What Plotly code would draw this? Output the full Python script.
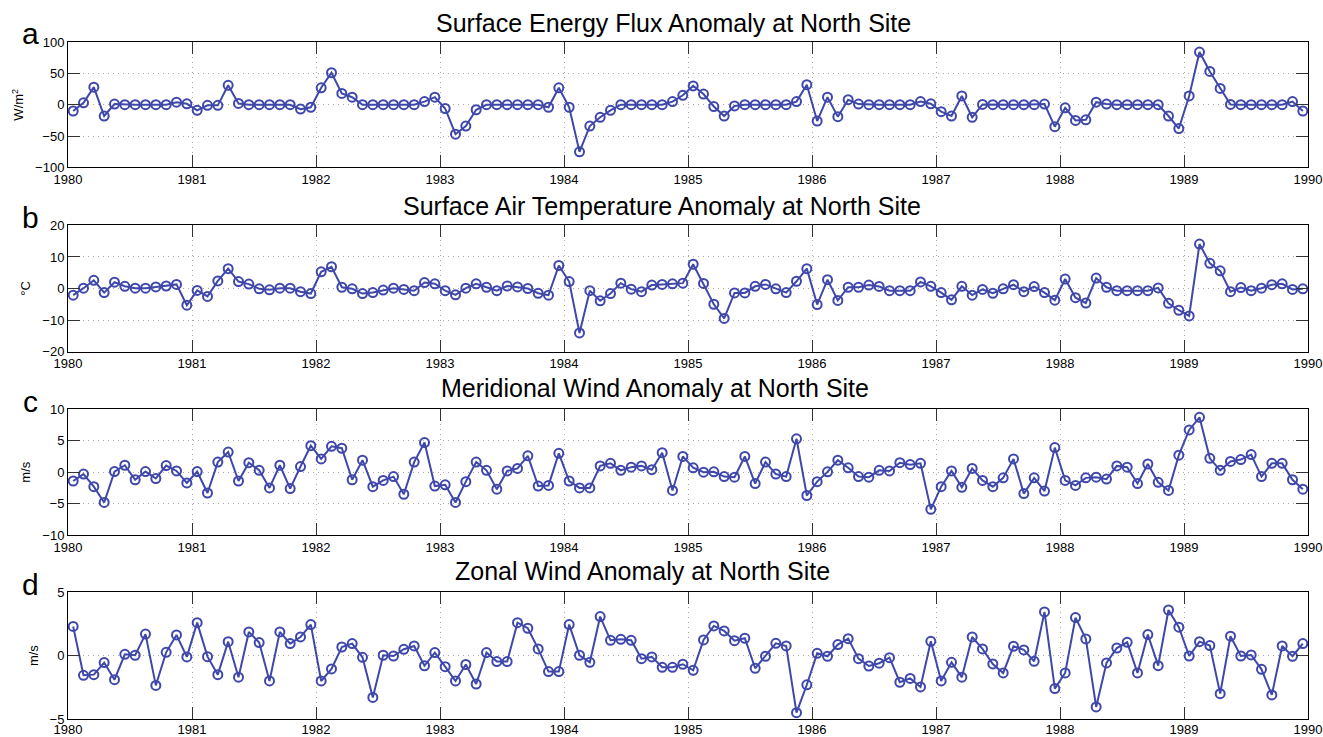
import numpy as np
import plotly.graph_objects as go

# Monthly anomalies, Jan 1980 - Dec 1989 (one row per year)
energy_flux = [
    -10, 3, 28, -18, 1, 0, 0, 0, 0, 0, 4, 1.5,
    -9, -1, -1, 31, 2, 0, 0, 0, 0, 0, -7, -4,
    27, 51, 18, 12, 0, 0, 0, 0, 0, 0, 5, 12,
    -6, -47, -34, -8, 0, 0, 0, 0, 0, 0, -4, 27,
    -4, -75, -34, -20, -9, 0, 0, 0, 0, 0, 5, 15,
    30, 17, -3, -18, -2, 0, 0, 0, 0, 0, 5, 32,
    -26, 12, -19, 8, 1, 0, 0, 0, 0, 0, 5, 1.5,
    -11, -18, 14, -20, 0.5, 0, 0, 0, 0, 0, 1, -35,
    -5, -25, -24, 4, 1, 0, 0, 0, 0, 0, -18, -38,
    14, 84, 53, 26, 0.5, 0, 0, 0, 0, 0, 5, -10,
]
air_temp = [
    -2.1, 0.1, 2.6, -1.3, 2.0, 0.7, 0.1, 0.1, 0.5, 0.8, 1.3, -5.3,
    -0.6, -2.5, 2.4, 6.3, 2.2, 1.4, -0.1, -0.4, 0.1, 0.1, -1.0, -1.6,
    5.3, 6.9, 0.4, -0.1, -1.6, -1.3, -0.5, 0.1, -0.3, -0.7, 1.9, 1.5,
    -0.7, -2.0, 0.1, 1.5, 0.4, -0.7, 0.8, 0.5, 0.0, -1.5, -2.1, 7.3,
    2.2, -14.1, -0.7, -3.9, -1.6, 1.7, -0.2, -1.0, 1.1, 1.3, 1.5, 1.7,
    7.7, 1.6, -5.0, -9.5, -1.4, -1.4, 0.7, 1.3, -0.1, -1.3, 2.3, 6.3,
    -5.1, 2.8, -3.8, 0.4, 0.4, 1.1, 0.65, -0.7, -0.7, -0.7, 2.1, 0.7,
    -1.3, -3.6, 0.7, -2.1, -0.3, -1.5, -0.1, 1.2, -1.0, 0.6, -1.3, -3.7,
    3.0, -2.9, -4.6, 3.3, 0.4, -0.7, -0.7, -0.7, -0.7, 0.2, -4.7, -6.9,
    -8.7, 14.1, 8.0, 5.6, -1.0, 0.3, -0.7, 0.1, 1.2, 1.5, -0.3, -0.1,
]
meridional_wind = [
    -1.4, -0.3, -2.3, -4.8, 0.1, 1.1, -1.2, 0.1, -1.0, 1.05, 0.2, -1.7,
    0.1, -3.3, 1.6, 3.2, -1.4, 1.5, 0.3, -2.5, 1.1, -2.6, 0.9, 4.2,
    2.1, 4.1, 3.8, -1.2, 1.9, -2.3, -1.3, -0.7, -3.5, 1.6, 4.7, -2.2,
    -2.0, -4.8, -1.5, 1.6, 0.3, -2.7, 0.2, 0.6, 2.6, -2.2, -2.1, 3.0,
    -1.4, -2.5, -2.5, 1.0, 1.4, 0.3, 0.8, 1.0, 0.4, 3.1, -2.9, 2.5,
    0.7, 0.0, 0.05, -0.7, -0.8, 2.5, -1.8, 1.6, -0.3, -0.7, 5.3, -3.7,
    -1.5, 0.05, 1.9, 0.7, -0.7, -0.8, 0.3, 0.2, 1.5, 1.2, 1.4, -5.9,
    -2.3, 0.2, -2.4, 0.6, -1.3, -2.3, -0.9, 2.1, -3.4, -0.9, -3.0, 3.9,
    -1.3, -2.1, -0.9, -0.8, -1.1, 1.0, 0.8, -1.8, 1.3, -1.6, -2.9, 2.7,
    6.7, 8.7, 2.2, 0.3, 1.7, 2.0, 2.8, -0.7, 1.4, 1.4, -1.2, -2.7,
]
zonal_wind = [
    2.3, -1.55, -1.5, -0.55, -1.9, 0.1, 0.03, 1.7, -2.35, 0.26, 1.63, -0.1,
    2.6, -0.08, -1.5, 1.1, -1.7, 1.87, 1.03, -2.0, 1.87, 0.95, 1.47, 2.45,
    -2.0, -1.05, 0.68, 0.95, -0.13, -3.3, 0.03, -0.03, 0.5, 0.76, -0.8, 0.24,
    -0.87, -2.0, -0.7, -2.24, 0.24, -0.47, -0.47, 2.6, 2.16, 0.53, -1.26, -1.26,
    2.45, 0.03, -0.53, 3.08, 1.21, 1.29, 1.21, -0.24, -0.1, -0.92, -0.92, -0.68,
    -1.16, 1.24, 2.34, 1.95, 1.18, 1.37, -1.0, -0.05, 0.97, 0.76, -4.5, -2.3,
    0.18, -0.05, 0.87, 1.34, -0.24, -0.82, -0.6, -0.16, -2.1, -1.8, -2.47, 1.13,
    -2.0, -0.53, -1.7, 1.47, 0.53, -0.66, -1.37, 0.74, 0.45, -0.45, 3.45, -2.6,
    -1.37, 3.0, 1.32, -4.05, -0.58, 0.6, 1.05, -1.37, 1.66, -0.79, 3.6, 2.24,
    -0.03, 1.1, 0.79, -3.0, 1.53, -0.03, 0.05, -1.08, -3.1, 0.76, -0.05, 0.95,
]

# Mid-month time stamps in decimal years
start_year = 1980
months = np.arange(len(energy_flux))
time = start_year + (months + 0.5) / 12.0

year_ticks = list(range(1980, 1991))

panels = [
    dict(letter="a", title="Surface Energy Flux Anomaly at North Site",
         values=energy_flux, ylabel="W/m<sup>2</sup>", yrange=[-100, 100],
         yticks=[-100, -50, 0, 50, 100]),
    dict(letter="b", title="Surface Air Temperature Anomaly at North Site",
         values=air_temp, ylabel="°C", yrange=[-20, 20],
         yticks=[-20, -10, 0, 10, 20]),
    dict(letter="c", title="Meridional Wind Anomaly at North Site",
         values=meridional_wind, ylabel="m/s", yrange=[-10, 10],
         yticks=[-10, -5, 0, 5, 10]),
    dict(letter="d", title="Zonal Wind Anomaly at North Site",
         values=zonal_wind, ylabel="m/s", yrange=[-5, 5],
         yticks=[-5, 0, 5]),
]

# Page geometry (pixels)
W, H = 1323, 737
left, right = 68.3, 1308.0
panel_px = [(42.3, 167.7), (225.7, 351.7), (409.3, 535.3), (592.3, 719.0)]
title_px = [(674, 23), (662, 206), (655, 388), (643, 571)]
mt, mb = panel_px[0][0], H - panel_px[-1][1]
plot_h = H - mt - mb

line_color = "#3F48AA"
font_family = "Liberation Sans, Arial, Helvetica, sans-serif"

fig = go.Figure()
layout = dict(
    width=W, height=H, autosize=False,
    margin=dict(l=left, r=W - right, t=mt, b=mb, pad=0, autoexpand=False),
    paper_bgcolor="white", plot_bgcolor="white",
    showlegend=False,
    font=dict(family=font_family, size=13, color="black"),
)
annotations = []

for k, p in enumerate(panels):
    n = k + 1
    xa = "x" if n == 1 else f"x{n}"
    ya = "y" if n == 1 else f"y{n}"
    top_px, bot_px = panel_px[k]
    dom = [1 - (bot_px - mt) / plot_h, 1 - (top_px - mt) / plot_h]

    fig.add_trace(go.Scatter(
        x=time, y=p["values"], xaxis=xa, yaxis=ya, mode="lines+markers",
        line=dict(color=line_color, width=2),
        marker=dict(symbol="circle-open", size=9, color=line_color,
                    line=dict(color=line_color, width=2)),
        cliponaxis=False,
    ))

    common = dict(
        showline=True, linecolor="black", linewidth=1, mirror="ticks",
        ticks="inside", ticklen=12, tickwidth=1, tickcolor="#333333",
        showgrid=True, gridcolor="#A8A8A8", griddash="1px,4px", gridwidth=1,
        zeroline=False, automargin=False,
        tickfont=dict(size=13, family=font_family),
    )
    # the bottom panel's year labels sit a little closer to the page edge
    standoff = -2 if n == len(panels) else 0
    layout["xaxis" if n == 1 else f"xaxis{n}"] = dict(
        common, anchor=ya, domain=[0, 1], range=[1980, 1990],
        tickmode="array", tickvals=year_ticks,
        ticktext=[str(y) for y in year_ticks],
        ticklabelstandoff=standoff,
    )
    layout["yaxis" if n == 1 else f"yaxis{n}"] = dict(
        common, anchor=xa, domain=dom, range=p["yrange"],
        tickmode="array", tickvals=p["yticks"],
        ticktext=[str(v).replace("-", "\u2212") for v in p["yticks"]],
        title=dict(text=p["ylabel"], font=dict(size=13), standoff=8),
    )

    tx, ty = title_px[k]
    annotations.append(dict(
        text=p["title"], xref="paper", yref="paper",
        x=(tx - left) / (right - left), y=1 - (ty - mt) / plot_h,
        xanchor="center", yanchor="middle", showarrow=False,
        font=dict(size=25, family=font_family),
    ))
    annotations.append(dict(
        text=p["letter"], xref="paper", yref="paper",
        x=(31 - left) / (right - left), y=1 - (top_px - 8 - mt) / plot_h,
        xanchor="center", yanchor="middle", showarrow=False,
        font=dict(size=30, family=font_family),
    ))

layout["annotations"] = annotations
fig.update_layout(**layout)
fig.write_html("out.html")
